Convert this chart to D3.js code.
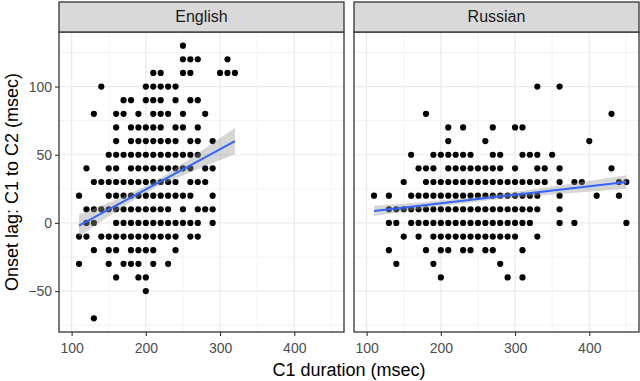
<!DOCTYPE html>
<html><head><meta charset="utf-8">
<script src="https://cdn.jsdelivr.net/npm/d3@7"></script>
<style>body{margin:0;background:#fff} svg{display:block}</style>
</head><body><svg id="c" width="640" height="381"></svg>
<script>
const panels = ["English", "Russian"];
const xTicks = [100, 200, 300, 400];
const xMinor = [150, 250, 350, 450];
const yTicks = [-50, 0, 50, 100];
const yMinor = [-75, -25, 25, 75, 125];
const xTitle = "C1 duration (msec)";
const yTitle = "Onset lag: C1 to C2 (msec)";

// [onset lag, [C1 durations]]
const englishRows = [
  [130, [250]],
  [120, [250, 260, 270, 310]],
  [110, [210, 220, 250, 260, 300, 310, 320]],
  [100, [140, 200, 210, 220, 230, 240]],
  [90, [170, 180, 200, 210, 220, 240, 260, 270]],
  [80, [130, 160, 170, 190, 210, 220, 230, 250, 280]],
  [70, [160, 180, 190, 200, 210, 220, 240, 250, 270]],
  [60, [160, 180, 190, 200, 210, 220, 230, 240, 260, 270, 290]],
  [50, [150, 160, 170, 180, 190, 200, 210, 220, 230, 240, 250, 260, 270]],
  [40, [120, 150, 160, 180, 190, 200, 210, 220, 230, 240, 250, 260, 280, 290]],
  [30, [130, 140, 150, 160, 170, 180, 190, 200, 210, 220, 230, 240, 260, 270, 280]],
  [20, [110, 150, 160, 170, 180, 190, 200, 210, 220, 230, 240, 250, 260, 290]],
  [10, [120, 130, 140, 150, 160, 170, 180, 190, 200, 210, 220, 230, 250, 270, 280, 290]],
  [0, [120, 130, 160, 170, 180, 190, 200, 210, 220, 230, 240, 250, 260, 270, 290]],
  [-10, [110, 120, 140, 150, 160, 170, 180, 190, 200, 210, 220, 230, 240, 260, 270]],
  [-20, [130, 150, 160, 180, 190, 200, 210, 240]],
  [-30, [110, 150, 170, 180, 190, 210, 230]],
  [-40, [160, 190, 200]],
  [-50, [200]],
  [-70, [130]]
];
const russianRows = [
  [100, [330, 360]],
  [80, [180, 430]],
  [70, [210, 230, 270, 300, 310]],
  [60, [210, 260, 400]],
  [50, [160, 190, 200, 210, 220, 230, 240, 270, 280, 310, 320, 330, 350]],
  [40, [170, 180, 190, 210, 220, 230, 240, 250, 260, 270, 280, 300, 330, 340, 360, 430]],
  [30, [150, 180, 190, 200, 210, 220, 230, 240, 250, 260, 270, 280, 290, 300, 310, 320, 330, 340, 360, 380, 390, 440, 450]],
  [20, [110, 130, 160, 170, 180, 190, 200, 210, 220, 230, 240, 250, 260, 270, 280, 290, 300, 310, 320, 330, 360, 410, 440]],
  [10, [130, 140, 150, 160, 170, 180, 190, 200, 210, 220, 230, 240, 250, 260, 270, 280, 290, 300, 310, 320, 330, 360]],
  [0, [130, 140, 160, 170, 180, 190, 200, 210, 220, 230, 240, 250, 260, 270, 280, 290, 300, 310, 320, 360, 380, 450]],
  [-10, [150, 170, 190, 200, 210, 220, 230, 240, 250, 260, 270, 280, 290, 300, 330]],
  [-20, [130, 180, 200, 210, 230, 240, 260, 270, 310]],
  [-30, [140, 190, 280]],
  [-40, [200, 290, 310]]
];

// linear smooth (fit and 95% band)
const englishSmoothX = [110, 160, 210, 260, 320];
const englishFit = [-2, 12.8, 27.5, 42.2, 60];
const englishLo = [-10.1, 8.4, 25, 37.1, 50.3];
const englishHi = [6.1, 17.2, 30, 47.3, 69.7];
const russianSmoothX = [110, 180, 250, 330, 450];
const russianFit = [8.8, 13.2, 17.5, 22.5, 30];
const russianLo = [5.1, 10.8, 15.7, 19.9, 25.1];
const russianHi = [12.5, 15.6, 19.3, 25.1, 34.9];

const rowsByPanel = { English: englishRows, Russian: russianRows };
const smoothByPanel = {
  English: englishSmoothX.map((x, i) => ({ x, fit: englishFit[i], lo: englishLo[i], hi: englishHi[i] })),
  Russian: russianSmoothX.map((x, i) => ({ x, fit: russianFit[i], lo: russianLo[i], hi: russianHi[i] }))
};

const svg = d3.select("#c");
const panelLeft = { English: 59, Russian: 354 };
const panelW = 285;
const pTop = 32, pBottom = 332, stripTop = 2;
const font = "Liberation Sans, Arial, sans-serif";

const y = d3.scaleLinear().domain([-80, 140]).range([pBottom, pTop]);

panels.forEach(p => {
  const L = panelLeft[p];
  const x = d3.scaleLinear().domain([83, 467]).range([L, L + panelW]);
  const g = svg.append("g");
  g.append("rect").attr("x", L).attr("y", pTop).attr("width", panelW).attr("height", pBottom - pTop).attr("fill", "#fff");
  g.selectAll(".mx").data(xMinor).join("line")
    .attr("x1", d => x(d)).attr("x2", d => x(d)).attr("y1", pTop).attr("y2", pBottom)
    .attr("stroke", "#EBEBEB").attr("stroke-width", 0.6);
  g.selectAll(".my").data(yMinor).join("line")
    .attr("y1", d => y(d)).attr("y2", d => y(d)).attr("x1", L).attr("x2", L + panelW)
    .attr("stroke", "#EBEBEB").attr("stroke-width", 0.6);
  g.selectAll(".Mx").data(xTicks).join("line")
    .attr("x1", d => x(d)).attr("x2", d => x(d)).attr("y1", pTop).attr("y2", pBottom)
    .attr("stroke", "#EBEBEB").attr("stroke-width", 1.2);
  g.selectAll(".My").data(yTicks).join("line")
    .attr("y1", d => y(d)).attr("y2", d => y(d)).attr("x1", L).attr("x2", L + panelW)
    .attr("stroke", "#EBEBEB").attr("stroke-width", 1.2);

  const pts = [];
  rowsByPanel[p].forEach(([lag, durs]) => durs.forEach(d => pts.push([d, lag])));
  g.append("g").selectAll("circle").data(pts).join("circle")
    .attr("cx", d => x(d[0])).attr("cy", d => y(d[1])).attr("r", 3.1).attr("fill", "#000");

  const band = smoothByPanel[p];
  g.append("path").datum(band)
    .attr("d", d3.area().curve(d3.curveMonotoneX).x(d => x(d.x)).y0(d => y(d.lo)).y1(d => y(d.hi)))
    .attr("fill", "#999999").attr("fill-opacity", 0.4);
  g.append("path").datum(band)
    .attr("d", d3.line().x(d => x(d.x)).y(d => y(d.fit)))
    .attr("fill", "none").attr("stroke", "#3366FF").attr("stroke-width", 2);

  g.append("rect").attr("x", L).attr("y", pTop).attr("width", panelW).attr("height", pBottom - pTop)
    .attr("fill", "none").attr("stroke", "#333333").attr("stroke-width", 1.3);
  g.append("rect").attr("x", L).attr("y", stripTop).attr("width", panelW).attr("height", pTop - stripTop)
    .attr("fill", "#D9D9D9").attr("stroke", "#333333").attr("stroke-width", 1.3);
  g.append("text").attr("x", L + panelW / 2).attr("y", pTop - 10)
    .attr("text-anchor", "middle").attr("font-family", font).attr("font-size", 16)
    .attr("fill", "#1A1A1A").text(p);

  const xa = g.append("g").attr("transform", `translate(0,${pBottom})`)
    .call(d3.axisBottom(x).tickValues(xTicks).tickSize(4).tickPadding(7));
  xa.select(".domain").remove();
  xa.selectAll("line").attr("stroke", "#333333").attr("stroke-width", 1.1);
  xa.selectAll("text").attr("font-family", font).attr("font-size", 14).attr("fill", "#4D4D4D");
});

const ya = svg.append("g").attr("transform", `translate(${panelLeft.English},0)`)
  .call(d3.axisLeft(y).tickValues(yTicks).tickSize(4).tickPadding(3));
ya.select(".domain").remove();
ya.selectAll("line").attr("stroke", "#333333").attr("stroke-width", 1.1);
ya.selectAll("text").attr("font-family", font).attr("font-size", 14).attr("fill", "#4D4D4D");

svg.append("text").attr("x", (panelLeft.English + panelLeft.Russian + panelW) / 2).attr("y", 376)
  .attr("text-anchor", "middle").attr("font-family", font).attr("font-size", 18).attr("fill", "#000").text(xTitle);
svg.append("text").attr("transform", `translate(18,${(pTop + pBottom) / 2}) rotate(-90)`)
  .attr("text-anchor", "middle").attr("font-family", font).attr("font-size", 18).attr("fill", "#000").text(yTitle);
</script></body></html>
